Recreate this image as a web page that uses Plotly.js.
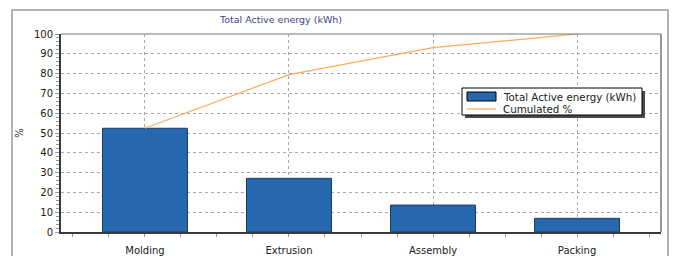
<!DOCTYPE html>
<html>
<head>
<meta charset="utf-8">
<script src="https://cdn.plot.ly/plotly-3.0.1.min.js"></script>
<style>html,body{margin:0;padding:0;background:#fff;}#chart{width:673px;height:256px;}</style>
</head>
<body>
<div id="chart"></div>
<script>
const categories = ["Molding", "Extrusion", "Assembly", "Packing"];
const energyPct = [52.4, 27.1, 13.6, 6.9];
const cumulatedPct = [52.4, 79.5, 93.1, 100];
const yTicks = [0, 10, 20, 30, 40, 50, 60, 70, 80, 90, 100];
const seriesNames = ["Total Active energy (kWh)", "Cumulated %"];

const xIdx = categories.map((_, i) => i);
const FONT = "DejaVu Sans";
const BAR_COLOR = "#2767ae";
const LINE_COLOR = "#ffaa5e";

const traces = [
  {
    type: "bar",
    name: seriesNames[0],
    x: xIdx,
    y: energyPct,
    width: 0.59,
    marker: { color: BAR_COLOR, line: { color: "#1c3d66", width: 1 } },
    hoverinfo: "skip"
  },
  {
    type: "scatter",
    mode: "lines",
    name: seriesNames[1],
    x: xIdx,
    y: cumulatedPct,
    line: { color: LINE_COLOR, width: 1.2 },
    hoverinfo: "skip"
  }
];

// pixel helpers for the legend box (plot area: x 61..661, y 34..232)
const px = v => (v - 61) / 600;
const py = v => (232 - v) / 198;

const layout = {
  width: 673,
  height: 256,
  margin: { l: 61, r: 12, t: 34, b: 24, pad: 0 },
  paper_bgcolor: "#ffffff",
  plot_bgcolor: "#ffffff",
  font: { family: FONT, size: 10, color: "#222" },
  title: {
    text: "Total Active energy (kWh)",
    font: { family: FONT, size: 9.5, color: "#3f3f8f" },
    xref: "container", x: 281 / 673, xanchor: "center",
    yref: "container", y: 1 - 20 / 256, yanchor: "middle"
  },
  showlegend: false,
  xaxis: {
    type: "linear",
    range: [-0.583, 3.583],
    tickvals: xIdx,
    ticktext: categories,
    showgrid: true,
    gridcolor: "#aaaaaa",
    griddash: "dot",
    gridwidth: 1,
    zeroline: false,
    showline: true,
    linecolor: "#3a3a3a",
    linewidth: 2,
    ticks: "outside",
    ticklen: 3,
    tickcolor: "#999",
    ticklabelstandoff: 5,
    tickfont: { family: FONT, size: 10, color: "#222" },
    minor: { dtick: 0.25, tick0: 0, ticks: "outside", ticklen: 3, tickcolor: "#999", showgrid: false },
    fixedrange: true
  },
  yaxis: {
    range: [0, 100],
    tickvals: yTicks,
    title: { text: "%", font: { family: FONT, size: 10, color: "#222" }, standoff: 8 },
    showgrid: true,
    gridcolor: "#aaaaaa",
    griddash: "dot",
    gridwidth: 1,
    zeroline: false,
    showline: true,
    linecolor: "#3a3a3a",
    linewidth: 2,
    ticks: "outside",
    ticklen: 4,
    tickcolor: "#999",
    tickfont: { family: FONT, size: 10, color: "#1a1a1a" },
    minor: { dtick: 2, tick0: 0, ticks: "outside", ticklen: 3, tickcolor: "#999", showgrid: false },
    fixedrange: true
  },
  shapes: [
    // outer chart frame
    { type: "rect", xref: "paper", yref: "paper",
      x0: px(12), x1: px(668), y0: py(270), y1: py(10),
      line: { color: "#9a9a9a", width: 1.5 }, fillcolor: "rgba(0,0,0,0)", layer: "below" },
    // plot area top/right border
    { type: "line", xref: "paper", yref: "paper", x0: 0, x1: 1, y0: 1, y1: 1,
      line: { color: "#777", width: 1 }, layer: "above" },
    { type: "line", xref: "paper", yref: "paper", x0: 1, x1: 1, y0: 0, y1: 1,
      line: { color: "#777", width: 1.5 }, layer: "above" },
    // legend shadow
    { type: "rect", xref: "paper", yref: "paper",
      x0: px(465), x1: px(645), y0: py(118), y1: py(91),
      line: { width: 0 }, fillcolor: "#4a4a4a", layer: "above" },
    // legend box
    { type: "rect", xref: "paper", yref: "paper",
      x0: px(462), x1: px(642), y0: py(115), y1: py(88),
      line: { color: "#000", width: 1 }, fillcolor: "#ffffff", layer: "above" },
    // legend swatch: bar
    { type: "rect", xref: "paper", yref: "paper",
      x0: px(467), x1: px(496), y0: py(101), y1: py(92),
      line: { color: "#000", width: 1 }, fillcolor: BAR_COLOR, layer: "above" },
    // legend swatch: line
    { type: "line", xref: "paper", yref: "paper",
      x0: px(467), x1: px(496), y0: py(109), y1: py(109),
      line: { color: LINE_COLOR, width: 1.2 }, layer: "above" }
  ],
  annotations: [
    { xref: "paper", yref: "paper", x: px(501), y: py(96.5), xanchor: "left", yanchor: "middle",
      text: seriesNames[0], showarrow: false, font: { family: FONT, size: 10.3, color: "#222" } },
    { xref: "paper", yref: "paper", x: px(501), y: py(108.5), xanchor: "left", yanchor: "middle",
      text: seriesNames[1], showarrow: false, font: { family: FONT, size: 10.3, color: "#222" } }
  ]
};

Plotly.newPlot("chart", traces, layout, { displayModeBar: false, staticPlot: true });
</script>
</body>
</html>
